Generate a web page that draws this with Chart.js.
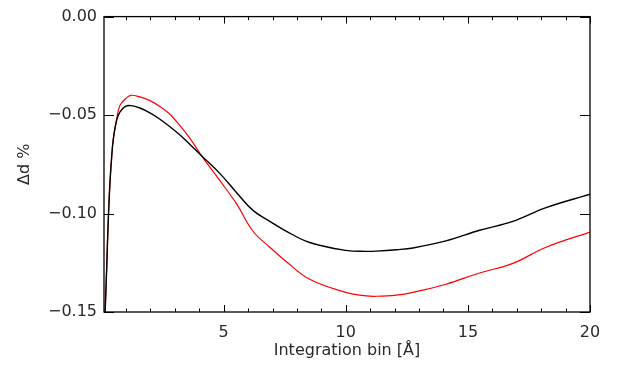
<!DOCTYPE html>
<html>
<head>
<meta charset="utf-8">
<script src="https://cdn.jsdelivr.net/npm/chart.js@4.4.1/dist/chart.umd.min.js"></script>
<style>
  html, body { margin: 0; padding: 0; background: #fff; }
  canvas { display: block; }
</style>
</head>
<body>
<canvas id="chart" width="624" height="367"></canvas>
<script>
/* ── Data ────────────────────────────────────────────────── */
const binWidths = [0.14, 0.21, 0.27, 0.34, 0.41, 0.48, 0.62, 0.75, 0.96, 1.2, 1.57, 2.0,
  2.39, 2.8, 3.2, 3.62, 4.09, 4.84, 5.53, 6.2, 6.89, 7.57, 8.52, 10.0, 10.84, 11.25,
  12.07, 12.75, 14.1, 15.48, 16.84, 18.2, 20.0];

const blackSeries = [-0.152, -0.1277, -0.1049, -0.0853, -0.072, -0.0623, -0.0525, -0.0485,
  -0.0457, -0.0452, -0.0464, -0.049, -0.0521, -0.0559, -0.060, -0.0649, -0.0706, -0.0796,
  -0.0894, -0.0984, -0.104, -0.109, -0.1147, -0.1187, -0.1192, -0.1191, -0.1184, -0.1175,
  -0.1139, -0.1085, -0.104, -0.097, -0.0902];

const redSeries = [-0.152, -0.1277, -0.1049, -0.0853, -0.072, -0.0623, -0.052, -0.0452,
  -0.042, -0.0400, -0.0408, -0.0428, -0.0457, -0.0496, -0.0552, -0.0618, -0.0706, -0.0832,
  -0.0951, -0.109, -0.1171, -0.1245, -0.1334, -0.140, -0.1418, -0.142, -0.1414, -0.1400,
  -0.1359, -0.1302, -0.1253, -0.1171, -0.1094];

const xRange = [0.1, 20];
const yRange = [-0.15, 0.0];
const yStep = 0.05;

const FONT = "'DejaVu Sans', sans-serif";
const TEXT = '#2a2a2a';

const toPoints = (ys) => binWidths.map((x, i) => ({ x, y: ys[i] }));

// IDL-style box: frame on all four sides, tick marks pointing inward
const frameTicks = {
  id: 'frameTicks',
  afterDatasetsDraw(chart) {
    const { ctx, chartArea: a, scales: { x, y } } = chart;
    ctx.save();
    ctx.strokeStyle = '#000';
    ctx.lineWidth = 1.3;
    ctx.strokeRect(a.left, a.top, a.right - a.left, a.bottom - a.top);
    ctx.lineWidth = 1;
    ctx.beginPath();
    x.ticks.forEach((t) => {
      const px = Math.round(x.getPixelForValue(t.value)) + 0.5;
      const len = t.value % 5 === 0 ? 7 : 3.5;
      ctx.moveTo(px, a.bottom); ctx.lineTo(px, a.bottom - len);
      ctx.moveTo(px, a.top);    ctx.lineTo(px, a.top + len);
    });
    y.ticks.forEach((t) => {
      const py = Math.round(y.getPixelForValue(t.value)) + 0.5;
      ctx.moveTo(a.left, py);  ctx.lineTo(a.left + 10, py);
      ctx.moveTo(a.right, py); ctx.lineTo(a.right - 10, py);
    });
    ctx.stroke();
    ctx.restore();
  },
};

new Chart(document.getElementById('chart'), {
  type: 'line',
  data: {
    datasets: [
      {
        data: toPoints(blackSeries),
        borderColor: '#000000',
        borderWidth: 1.4,
        pointRadius: 0,
        tension: 0.4,
        clip: 0,
      },
      {
        data: toPoints(redSeries),
        borderColor: '#ff0000',
        borderWidth: 1.2,
        pointRadius: 0,
        tension: 0.4,
        clip: 0,
      },
    ],
  },
  options: {
    responsive: false,
    devicePixelRatio: 1,
    animation: false,
    layout: { padding: { top: 6, right: 34, left: 0, bottom: 0 } },
    plugins: { legend: { display: false }, tooltip: { enabled: false } },
    scales: {
      x: {
        type: 'linear',
        min: xRange[0],
        max: xRange[1],
        afterFit: (s) => { s.height = 55; },
        grid: { display: false, drawTicks: false },
        border: { display: false },
        ticks: {
          stepSize: 1,
          includeBounds: false,
          autoSkip: false,
          maxRotation: 0,
          padding: 11,
          color: TEXT,
          font: { family: FONT, size: 16 },
          callback: (v) => (v % 5 === 0 ? String(v) : ''),
        },
        title: {
          display: true,
          text: 'Integration bin [Å]',
          color: TEXT,
          font: { family: FONT, size: 16 },
          padding: { top: 0, bottom: 7 },
        },
      },
      y: {
        type: 'linear',
        min: yRange[0],
        max: yRange[1],
        afterFit: (s) => { s.width = 104; },
        grid: { display: false, drawTicks: false },
        border: { display: false },
        ticks: {
          stepSize: yStep,
          padding: 7,
          color: TEXT,
          font: { family: FONT, size: 16 },
          callback: (v) => {
            const s = Math.abs(v).toFixed(2);
            return v < -1e-9 ? '\u2212' + s : s;
          },
        },
        title: {
          display: true,
          text: 'Δd %',
          color: TEXT,
          font: { family: FONT, size: 16 },
          padding: { top: 15, bottom: 0 },
        },
      },
    },
  },
  plugins: [frameTicks],
});
</script>
</body>
</html>
